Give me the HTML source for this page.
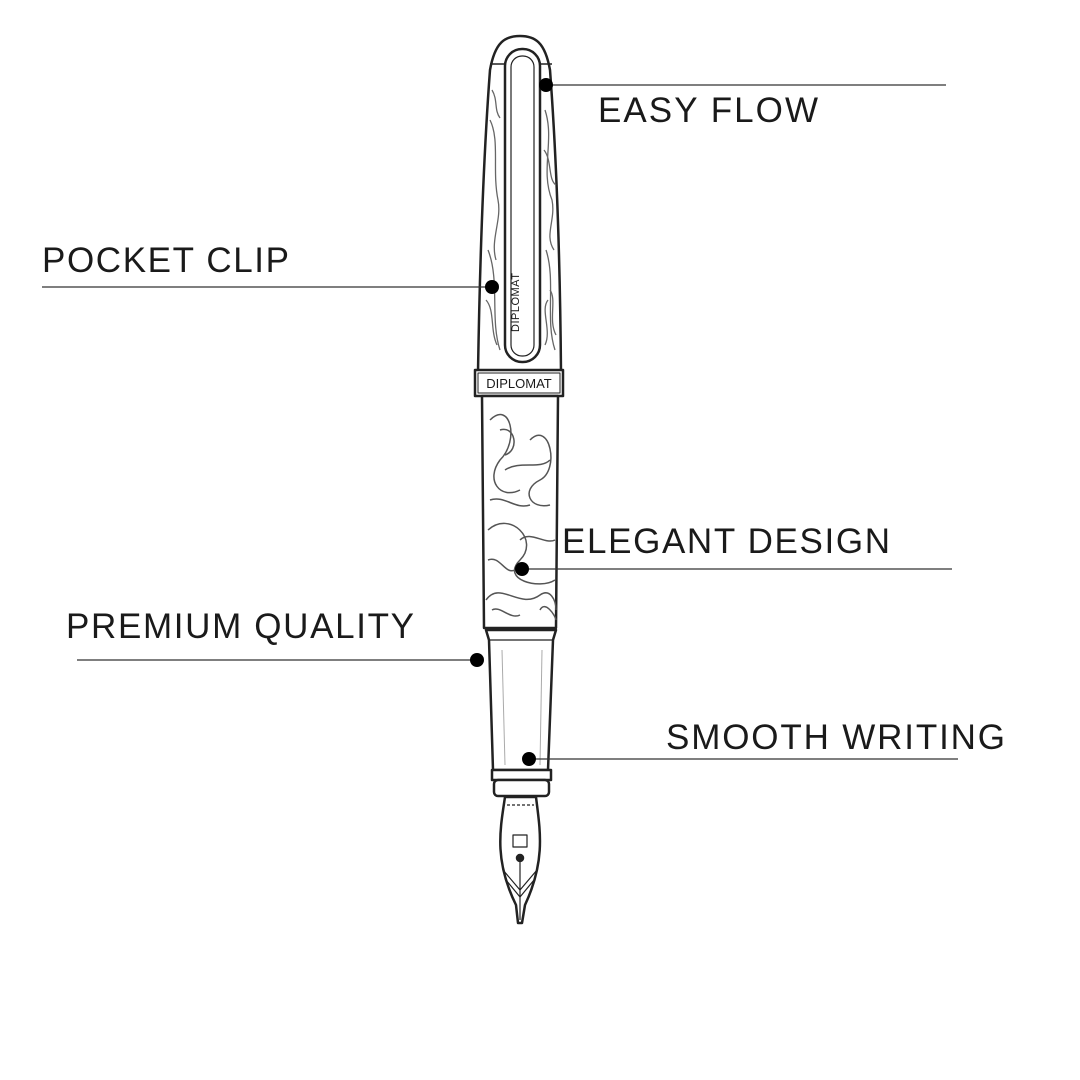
<!DOCTYPE html>
<html><head><meta charset="utf-8"><style>
html,body{margin:0;padding:0;background:#fff;}
svg{display:block}
text{font-family:"Liberation Sans",sans-serif;fill:#1a1a1a;}
</style></head><body>
<svg width="1080" height="1080" viewBox="0 0 1080 1080" xmlns="http://www.w3.org/2000/svg">
<rect width="1080" height="1080" fill="#fff"/>
<g fill="none" stroke="#222" stroke-width="2.5" stroke-linejoin="round">
<!-- cap -->
<path d="M478 372 C480 250 484 150 490 70 C495 42 505 36 520 36 C535 36 545 42 550 70 C556 150 560 250 561 372 Z" fill="#fff"/>
<path d="M490 64 L552 64" stroke-width="1.5"/>
<g stroke="#666" stroke-width="1.3">
<path d="M490 120 C500 140 492 170 498 200 C502 220 490 240 496 260 M545 110 C555 140 540 170 552 200 C556 220 544 235 554 250"/>
<path d="M488 250 C500 280 490 320 500 350 M546 250 C556 280 545 320 555 350"/>
<path d="M486 300 C495 310 490 330 497 345 M550 290 C557 300 548 320 556 335 M544 150 C552 160 548 180 556 185"/>
<path d="M492 90 C498 100 494 110 500 118 M548 300 C540 310 552 330 545 345"/>
</g>
<rect x="505" y="49" width="35" height="313" rx="17" fill="#fff"/>
<rect x="511" y="56" width="23" height="300" rx="11" stroke-width="1.2"/>
<rect x="475" y="370" width="88" height="26" fill="#fff"/>
<rect x="478" y="373" width="82" height="20" stroke-width="1"/>
<!-- body -->
<path d="M482 396 L484 628 L556 628 L558 396 Z" fill="#fff"/>
<g stroke="#555" stroke-width="1.5">
<path d="M490 420 C510 400 520 440 500 460 C485 480 500 500 520 490"/>
<path d="M530 440 C550 420 560 470 540 480 C520 490 530 510 550 505"/>
<path d="M488 530 C510 510 540 540 520 560 C500 580 540 590 555 580"/>
<path d="M486 600 C500 580 520 610 540 595 C550 588 556 600 556 610"/>
<path d="M500 430 C515 425 520 450 505 455"/>
<path d="M505 470 C520 460 540 470 550 460 M490 500 C505 495 515 510 530 505 M520 540 C530 530 545 545 555 540"/>
<path d="M488 560 C500 555 505 575 515 570 M540 610 C545 600 555 615 556 620 M492 610 C500 605 510 620 520 615"/>
</g>
<!-- grip -->
<path d="M486 630 L556 630 L553 640 L548 770 L493 770 L489 640 Z" fill="#fff"/>
<path d="M488 640 L554 640" stroke-width="1.2"/>
<path d="M502 650 L505 765 M542 650 L540 765" stroke="#aaa" stroke-width="1"/>
<rect x="492" y="770" width="59" height="10" fill="#fff"/>
<rect x="494" y="780" width="55" height="16" rx="4" fill="#fff"/>
<!-- nib -->
<path d="M505 797 L536 797 C540 830 546 860 525 905 L522 923 L518 923 L516 905 C494 860 500 830 505 797 Z" fill="#fff"/>
<path d="M507 805 L534 805" stroke-width="1.2" stroke-dasharray="3 2"/>
<rect x="513" y="835" width="14" height="12" stroke-width="1.2"/>
<path d="M503 870 L520 890 L537 870 M506 880 L520 897 L534 880" stroke-width="1.2"/>
<path d="M520 860 L520 920" stroke-width="1.2"/>
<circle cx="520" cy="858" r="3" fill="#222"/>
</g>
<text x="519" y="332" font-size="11" transform="rotate(-90 519 332)" text-anchor="start" letter-spacing="0.5">DIPLOMAT</text>
<text x="519" y="388" font-size="13" text-anchor="middle">DIPLOMAT</text>
<g stroke="#333" stroke-width="1.2">
<line x1="546" y1="85" x2="946" y2="85"/>
<line x1="42" y1="287" x2="492" y2="287"/>
<line x1="522" y1="569" x2="952" y2="569"/>
<line x1="77" y1="660" x2="477" y2="660"/>
<line x1="529" y1="759" x2="958" y2="759"/>
</g>
<g fill="#000">
<circle cx="546" cy="85" r="7"/>
<circle cx="492" cy="287" r="7"/>
<circle cx="522" cy="569" r="7"/>
<circle cx="477" cy="660" r="7"/>
<circle cx="529" cy="759" r="7"/>
</g>
<g font-size="35">
<text x="598" y="122" textLength="220">EASY FLOW</text>
<text x="42" y="272" textLength="247">POCKET CLIP</text>
<text x="562" y="553" textLength="328">ELEGANT DESIGN</text>
<text x="66" y="638" textLength="348">PREMIUM QUALITY</text>
<text x="666" y="749" textLength="339">SMOOTH WRITING</text>
</g>
</svg>
</body></html>
